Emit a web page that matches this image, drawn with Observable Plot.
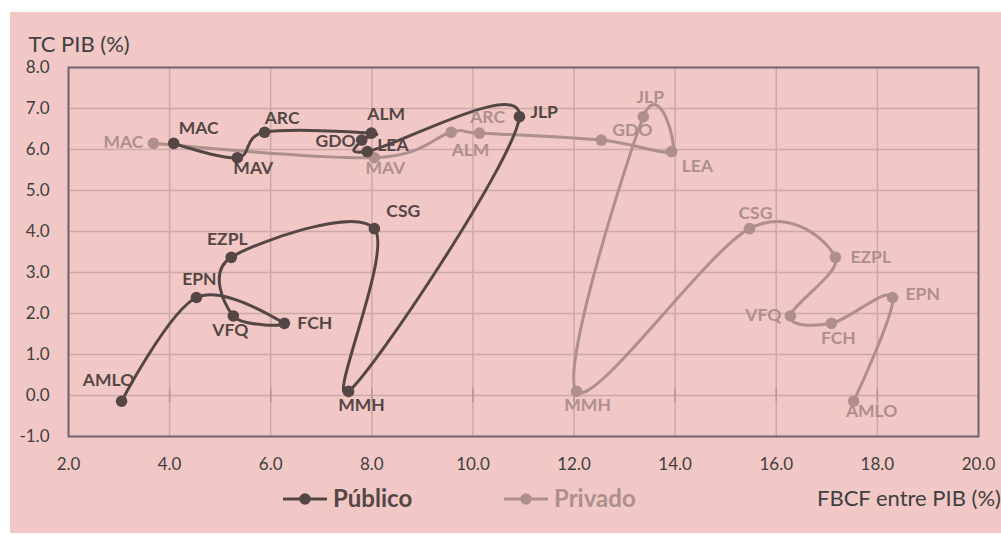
<!DOCTYPE html>
<html>
<head>
<meta charset="utf-8">
<script src="https://cdn.jsdelivr.net/npm/d3@7"></script>
<script src="https://cdn.jsdelivr.net/npm/@observablehq/plot@0.6"></script>
<style>
  body { margin: 0; background: #ffffff; width: 1001px; height: 535px; overflow: hidden; font-family: Lato, "Open Sans", sans-serif; }
  #panel { position: absolute; left: 10px; top: 12px; width: 991px; height: 521px; background: #F1C8C5; overflow: hidden; }
  #chart { position: absolute; left: 0; top: 0; }
  #legend { position: absolute; left: 0; top: 460px; width: 991px; height: 61px; }
</style>
</head>
<body>
<div id="panel">
  <div id="chart"></div>
  <div id="legend"></div>
</div>
<script>
// ---- Data ----
const presidentes = ["MAC","MAV","ARC","ALM","GDO","LEA","JLP","MMH","CSG","EZPL","VFQ","FCH","EPN","AMLO"];
const tcPib       = [6.15, 5.80, 6.42, 6.40, 6.23, 5.95, 6.80, 0.10, 4.07, 3.37, 1.94, 1.76, 2.39, -0.14];
const fbcfPublico = [4.08, 5.34, 5.88, 7.99, 7.80, 7.91, 10.92, 7.54, 8.05, 5.22, 5.26, 6.27, 4.53, 3.05];
const fbcfPrivado = [3.68, 8.05, 9.57, 10.13, 12.54, 13.93, 13.37, 12.05, 15.47, 17.17, 16.28, 17.09, 18.30, 17.53];
const seriesNames = ["Público", "Privado"];
const xTicks = [2, 4, 6, 8, 10, 12, 14, 16, 18, 20];
const yTicks = [-1, 0, 1, 2, 3, 4, 5, 6, 7, 8];
const xTitle = "FBCF entre PIB (%)";
const yTitle = "TC PIB (%)";

// ---- Styles ----
const colors = {"Público": "#554646", "Privado": "#AE8F8D"};
const gridColor = "#CDA8A7";
const frameColor = "#6E6577";
const textColor = "#404040";

// label placement (dx, dy, anchor) per series / point
const labelPos = {
  "Público": {
    MAC: [5, -15, "start"], MAV: [-4, 11, "start"], ARC: [0, -14, "start"], ALM: [-4, -19, "start"],
    GDO: [-6, 1, "end"], LEA: [10, -6, "start"], JLP: [11, -4, "start"], MMH: [13, 14, "middle"],
    CSG: [12, -17, "start"], EZPL: [-4, -18, "middle"], VFQ: [-3, 14, "middle"], FCH: [13, 0, "start"],
    EPN: [3, -18, "middle"], AMLO: [-13, -21, "middle"]
  },
  "Privado": {
    MAC: [-10, -1, "end"], MAV: [11, 11, "middle"], ARC: [19, -15, "start"], ALM: [-9, 17, "middle"],
    GDO: [11, -10, "start"], LEA: [10, 15, "start"], JLP: [7, -19, "middle"], MMH: [11, 14, "middle"],
    CSG: [6, -15, "middle"], EZPL: [15, 0, "start"], VFQ: [-9, -1, "end"], FCH: [7, 15, "middle"],
    EPN: [13, -3, "start"], AMLO: [18, 10, "middle"]
  }
};

const rows = seriesNames.flatMap(s => presidentes.map((p, i) => ({
  serie: s, p, x: s === "Público" ? fbcfPublico[i] : fbcfPrivado[i], y: tcPib[i]
})));
const pub = rows.filter(d => d.serie === "Público");
const pri = rows.filter(d => d.serie === "Privado");

const labelMarks = rows.map(d => {
  const [dx, dy, a] = labelPos[d.serie][d.p];
  return Plot.text([d], {x: "x", y: "y", text: "p", dx, dy, textAnchor: a,
    fill: colors[d.serie], fontSize: 17.5, fontWeight: "bold", fontFamily: "Lato"});
});

const fmt = d => d.toFixed(1);

const chart = Plot.plot({
  width: 991,
  height: 475,
  marginLeft: 58,
  marginRight: 23,
  marginTop: 55,
  marginBottom: 51,
  style: {background: "transparent", fontFamily: "Lato", fontSize: "17px", color: textColor},
  x: {domain: [2, 20]},
  y: {domain: [-1, 8]},
  marks: [
    Plot.gridX(xTicks, {stroke: gridColor, strokeOpacity: 1, strokeWidth: 1.5}),
    Plot.gridY(yTicks, {stroke: gridColor, strokeOpacity: 1, strokeWidth: 1.5}),
    Plot.ruleX(xTicks, {x: d => d, y1: -0.17, y2: 0.17, stroke: "#B99594", strokeWidth: 1.5}),
    Plot.frame({stroke: frameColor, strokeWidth: 2}),
    Plot.axisX(xTicks, {tickSize: 0, tickPadding: 21, tickFormat: fmt, label: null, fontSize: 17}),
    Plot.axisY(yTicks, {tickSize: 0, tickPadding: 19, tickFormat: fmt, label: null, fontSize: 17}),
    Plot.text([yTitle], {frameAnchor: "top-left", text: d => d, dx: -40, dy: -31, textAnchor: "start", fontSize: 22, fill: textColor}),
    Plot.line(pri, {x: "x", y: "y", curve: "cardinal", tension: 0, stroke: colors["Privado"], strokeWidth: 3}),
    Plot.dot(pri, {x: "x", y: "y", r: 5.8, fill: colors["Privado"]}),
    Plot.line(pub, {x: "x", y: "y", curve: "cardinal", tension: 0, stroke: colors["Público"], strokeWidth: 3}),
    Plot.dot(pub, {x: "x", y: "y", r: 5.8, fill: colors["Público"]}),
    ...labelMarks
  ]
});
document.getElementById("chart").appendChild(chart);

// ---- Legend row + x-axis title ----
const leg = d3.select("#legend").append("svg").attr("width", 991).attr("height", 61)
  .style("font-family", "Lato");
const legItems = [{name: seriesNames[0], x: 273}, {name: seriesNames[1], x: 494}];
legItems.forEach(it => {
  const g = leg.append("g").attr("transform", `translate(${it.x},27)`);
  g.append("line").attr("x1", 0).attr("x2", 44).attr("stroke", colors[it.name]).attr("stroke-width", 3);
  g.append("circle").attr("cx", 22).attr("r", 5.8).attr("fill", colors[it.name]);
  g.append("text").attr("x", 50).attr("dy", "0.35em").attr("font-size", 24).attr("font-weight", "bold")
    .attr("fill", colors[it.name]).text(it.name);
});
leg.append("text").attr("x", 807).attr("y", 26).attr("dy", "0.35em").attr("font-size", 22)
  .attr("fill", textColor).text(xTitle);
</script>
</body>
</html>
